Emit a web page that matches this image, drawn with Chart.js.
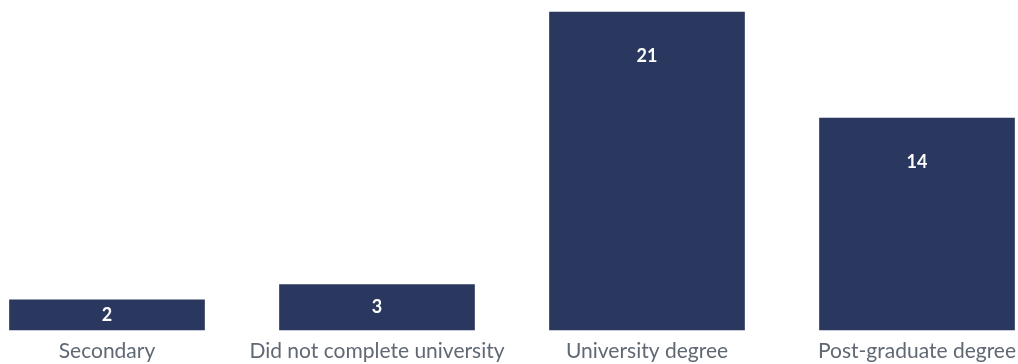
<!DOCTYPE html>
<html>
<head>
<meta charset="utf-8">
<script src="https://cdn.jsdelivr.net/npm/chart.js@4/dist/chart.umd.min.js"></script>
<style>
  html, body { margin: 0; padding: 0; background: #ffffff; }
  #wrap { width: 1018px; height: 364px; position: relative; }
</style>
</head>
<body>
<div id="wrap"><canvas id="c"></canvas></div>
<script>
const categories = ["Secondary", "Did not complete university", "University degree", "Post-graduate degree"];
const values = [2, 3, 21, 14];

const barLabels = {
  id: 'barLabels',
  afterDatasetsDraw(chart) {
    const ctx = chart.ctx;
    const meta = chart.getDatasetMeta(0);
    ctx.save();
    ctx.fillStyle = '#ffffff';
    ctx.font = 'bold 18px Lato';
    ctx.textAlign = 'center';
    ctx.textBaseline = 'middle';
    meta.data.forEach((bar, i) => {
      const h = bar.base - bar.y;
      const y = bar.y + Math.min(h / 2, 44);
      ctx.fillText(String(values[i]), bar.x, y);
    });
    ctx.restore();
  }
};

new Chart(document.getElementById('c'), {
  type: 'bar',
  data: {
    labels: categories,
    datasets: [{
      data: values,
      backgroundColor: '#2a375e',
      borderWidth: 0,
      barThickness: 195,
      clip: false
    }]
  },
  options: {
    responsive: true,
    maintainAspectRatio: false,
    animation: false,
    layout: { padding: { left: 107, right: 101, top: 12, bottom: 0 } },
    plugins: { legend: { display: false }, tooltip: { enabled: false } },
    scales: {
      x: {
        offset: false,
        grid: { display: false, drawTicks: false },
        border: { display: false },
        ticks: { color: '#5f6873', font: { family: 'Lato', size: 21 }, padding: 9, maxRotation: 0, autoSkip: false },
        afterFit(scale) {
          scale.height = 34;
          scale.paddingLeft = 0;
          scale.paddingRight = 0;
        }
      },
      y: {
        display: false,
        min: 0,
        max: 21
      }
    }
  },
  plugins: [barLabels]
});
</script>
</body>
</html>
